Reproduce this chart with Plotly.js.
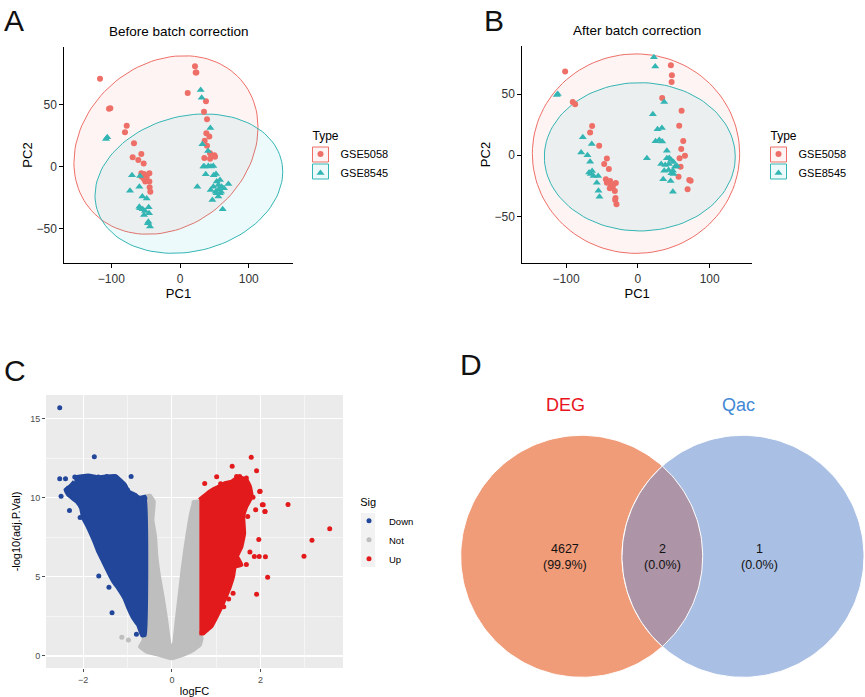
<!DOCTYPE html>
<html><head><meta charset="utf-8">
<script src="https://cdn.plot.ly/plotly-3.0.1.min.js"></script>
<style>body{margin:0;background:#fff}#chart{width:865px;height:697px}</style>
</head><body><div id="chart"></div>
<script>
// ---------- Panel A / B : PCA ----------
const typeNames = ['GSE5058', 'GSE8545'];
const aRedX = [-116.4,-103.3,-101.4,-77.6,-80.1,-67.0,-68.9,-56.3,-52.9,-60.7,-56.3,-52.4,-44.6,-48.5,-55.8,-50.5,-44.6,-44.2,-43.2,-52.4,21.8,22.8,23.8,11.2,37.8,34.9,39.3,38.3,42.7,35.9,39.3,43.7,50.0,50.9,35.4,43.7];
const aRedY = [71.2,47.0,47.3,33.3,28.0,19.1,7.8,10.5,2.7,5.6,-5.1,-5.6,-5.1,-7.8,-7.8,-11.8,-11.8,-16.4,-19.9,-9.7,81.2,76.1,76.1,59.7,53.0,44.6,38.4,27.2,24.5,21.2,17.2,11.0,9.4,8.3,7.3,6.7];
const aTealX = [-107.7,-105.8,-69.9,-58.2,-72.8,-59.2,-54.8,-48.5,-59.2,-54.3,-50.9,-45.6,-52.4,-45.1,-46.1,-43.7,-58.2,-46.6,30.1,31.5,44.2,32.5,40.8,35.4,41.2,48.5,37.4,49.0,52.4,25.2,44.6,48.5,53.4,55.8,58.2,60.6,64.0,70.4,58.2,51.9,47.1,62.1,55.8,59.7,34.0,45.1,56.3,53.4];
const aTealY = [22.6,23.9,-6.7,-7.3,-19.1,-15.9,-23.9,-25.5,-32.0,-34.1,-35.5,-32.5,-38.7,-37.4,-44.1,-48.1,-33.3,-45.4,62.1,55.9,31.5,18.3,12.9,0.3,0.8,0.8,-5.9,-6.7,-5.6,-15.9,-18.5,-15.9,-11.8,-14.5,-10.5,-15.9,-17.2,-13.7,-21.2,-19.9,-26.6,-34.1,-23.9,-19.9,0.3,0.3,-18.0,-21.2];
// ellipse: [centerX, centerY, halfExtentX, halfExtentY, covarianceXY]
const aEllRed = [-20.4, 17.7, 134, 72, 1900];
const aEllTeal = [12.9, -13.45, 136.6, 56.2, 1300];

const bRedX = [-101.3,-90.7,-87.4,-63.7,-66.5,-53.9,-43.2,-46.9,-40.4,-44.6,-38.6,-30.7,-37.7,-39.1,-32.1,-31.2,-29.8,-31.6,-43.2,-34.9,46.0,47.4,47.0,33.9,60.9,57.6,63.2,60.4,65.6,58.1,59.5,56.7,71.6,73.5,69.3];
const bRedY = [68.6,43.7,41.8,24.0,18.6,7.9,-2.7,-7.1,-11.2,-19.7,-21.0,-22.7,-24.3,-27.0,-29.2,-35.0,-40.2,-36.6,-22.4,-25.7,73.8,65.6,60.1,47.0,36.6,24.3,11.7,5.2,-0.3,-2.5,-9.3,-17.5,-20.2,-20.8,-27.9];
const bTealX = [-111.6,-113.0,-76.7,-79.0,-64.2,-70.2,-66.5,-67.9,-65.6,-61.8,-55.3,-57.2,-54.9,-53.5,-63.7,22.3,24.2,36.7,20.9,27.4,33.5,24.6,29.8,33.9,40.4,12.6,43.7,46.5,32.5,38.1,43.2,49.7,36.7,42.8,48.8,51.6,46.5,49.7,35.3,45.6,48.8,54.4,40.4];
const bTealY = [50.3,49.5,14.8,2.2,9.3,0,-5.2,-14.2,-15.3,-16.9,-16.9,-22.4,-29.0,-33.9,-12.8,80.3,72.7,43.7,33.6,21.3,22.4,11.5,12.6,11.2,3.8,-2.5,-2.2,-3.8,-7.1,-7.9,-7.1,-5.5,-12.6,-12.0,-12.6,-9.3,-14.8,-15.3,-19.7,-21.0,-29.8,-8.7,-2.5];
const bEllRed = [-2.6, 1.35, 144.4, 81.7, 0];
const bEllTeal = [2.7, -1.25, 133, 60.75, 0];
const pcaTicks = [-100, 0, 100];
const pcaYTicks = [-50, 0, 50];

// ---------- Panel C : volcano ----------
const sigNames = ['Down', 'Not', 'Up'];
// dense-cloud outlines
const downHullX = [-2.20,-1.89,-1.66,-1.47,-1.27,-1.06,-0.98,-0.83,-0.72,-0.61,-0.61,-0.67,-0.76,-0.87,-0.98,-1.07,-1.21,-1.32,-1.44,-1.55,-1.66,-1.75,-1.85,-1.92,-2.00,-2.05,-2.15,-2.34,-2.40,-2.30,-2.20];
const downHullY = [11.29,11.41,11.29,11.35,11.37,10.82,10.40,10.19,9.98,10.08,1.33,1.29,1.96,2.38,3.02,3.65,4.28,4.70,5.34,5.97,6.60,7.24,7.87,8.29,8.71,9.35,9.77,10.19,10.51,10.72,11.03];
const notHullX = [-0.61,-0.50,-0.41,-0.42,-0.44,-0.38,-0.35,-0.29,-0.21,-0.14,-0.08,-0.03,0.05,0.11,0.18,0.24,0.30,0.37,0.42,0.50,0.60,0.60,0.67,0.63,0.48,0.18,0.00,-0.27,-0.57,-0.72,-0.65,-0.61];
const notHullY = [10.08,10.13,9.77,9.24,8.61,7.55,6.29,5.02,3.76,2.49,1.22,0.38,0.80,2.28,3.97,5.44,6.71,7.97,8.82,9.70,9.77,1.65,1.12,0.70,0.38,0.00,-0.15,0.06,0.27,0.59,0.91,1.33];
const upHullX = [0.62,0.71,0.89,1.04,1.20,1.35,1.50,1.68,1.76,1.80,1.68,1.61,1.63,1.57,1.47,1.57,1.42,1.38,1.31,1.22,1.12,1.01,0.89,0.80,0.71,0.62];
const upHullY = [9.87,10.08,10.46,10.68,10.93,11.03,11.31,11.14,10.72,10.08,9.45,8.82,7.76,6.92,6.29,5.76,5.65,5.02,4.39,3.76,3.12,2.49,1.86,1.65,1.43,1.43];
// individually visible genes
const downPtX = [-2.53,-1.75,-2.53,-2.40,-2.50,-2.31,-0.92,-2.07,-1.65,-1.42,-1.35,-0.80,-2.19,-2.05,-1.90,-1.85,-1.66,-1.47,-1.27,-2.28,-2.34,-1.72,-1.06,-1.00,-0.72,-0.61];
const downPtY = [15.7,12.6,11.2,11.2,10.1,9.2,11.35,8.75,5.06,4.35,2.74,1.37,11.31,11.18,11.35,11.25,11.31,11.35,11.31,10.40,10.61,10.93,10.72,10.50,9.98,9.98];
const notPtX = [-1.13,-0.98,-0.50,0.50];
const notPtY = [1.18,1.01,10.1,9.7];
const upPtX = [1.79,1.36,1.01,0.74,1.91,1.99,2.04,2.10,2.62,1.96,1.76,1.97,2.11,2.16,1.91,1.86,1.68,1.28,1.38,1.17,3.56,3.16,2.98,1.10,1.46,1.53,1.68,1.31,1.98,1.66,1.83,2.06,2.10,1.71,1.89];
const upPtY = [12.57,12.0,11.33,10.91,11.71,10.42,9.56,9.14,9.58,7.36,6.58,6.29,6.27,4.98,3.90,6.29,5.78,3.61,3.97,3.12,8.04,7.32,6.31,10.89,11.35,11.35,11.25,10.89,10.40,10.51,10.04,9.56,9.13,8.82,9.24];
const volcXTicks = [-2, 0, 2];
const volcYTicks = [0, 5, 10, 15];

// ---------- Panel D : Venn ----------
const vennSets = ['DEG', 'Qac'];
const vennCounts = [4627, 2, 1]; // DEG only, both, Qac only

// ---------- helpers ----------
const RED = '#EE6F67', TEAL = '#33B5B3';
function ellipsePts(e) {
  const [cx, cy, sx, sy, sxy] = e;
  const p = sx, r = sxy / sx, s = Math.sqrt(sy * sy - r * r);
  const xs = [], ys = [];
  for (let i = 0; i <= 120; i++) {
    const t = 2 * Math.PI * i / 120;
    xs.push(cx + p * Math.cos(t));
    ys.push(cy + r * Math.cos(t) + s * Math.sin(t));
  }
  return [xs, ys];
}
function ellTrace(e, col, fill, xa, ya) {
  const [xs, ys] = ellipsePts(e);
  return {x: xs, y: ys, xaxis: xa, yaxis: ya, type: 'scatter', mode: 'lines', fill: 'toself',
    fillcolor: fill, line: {color: col, width: 1}, showlegend: false, hoverinfo: 'skip'};
}
function ptTrace(x, y, name, sym, col, size, xa, ya, leg) {
  return {x: x, y: y, name: name, xaxis: xa, yaxis: ya, type: 'scatter', mode: 'markers',
    marker: {symbol: sym, color: col, size: size, line: {width: 0}}, legend: leg, showlegend: true};
}

const traces = [];
// Panel A
traces.push(ellTrace(aEllRed, RED, 'rgba(248,118,109,0.08)', 'x', 'y'));
traces.push(ellTrace(aEllTeal, TEAL, 'rgba(0,191,196,0.07)', 'x', 'y'));
traces.push(ptTrace(aRedX, aRedY, typeNames[0], 'circle', RED, 6, 'x', 'y', 'legend'));
traces.push(ptTrace(aTealX, aTealY, typeNames[1], 'triangle-up', TEAL, 7, 'x', 'y', 'legend'));
// Panel B
traces.push(ellTrace(bEllRed, RED, 'rgba(248,118,109,0.08)', 'x2', 'y2'));
traces.push(ellTrace(bEllTeal, TEAL, 'rgba(0,191,196,0.07)', 'x2', 'y2'));
traces.push(ptTrace(bRedX, bRedY, typeNames[0], 'circle', RED, 6, 'x2', 'y2', 'legend2'));
traces.push(ptTrace(bTealX, bTealY, typeNames[1], 'triangle-up', TEAL, 7, 'x2', 'y2', 'legend2'));
// Panel C
const BLUE = '#21469A', GREY = '#BEBEBE', UPRED = '#E31A1C';
function hull(x, y, col) {
  return {x: x, y: y, xaxis: 'x3', yaxis: 'y3', type: 'scatter', mode: 'lines', fill: 'toself',
    fillcolor: col, line: {color: col, width: 4, shape: 'spline', smoothing: 0.3}, showlegend: false, hoverinfo: 'skip'};
}
traces.push(hull(notHullX, notHullY, GREY));
traces.push(hull(downHullX, downHullY, BLUE));
traces.push(hull(upHullX, upHullY, UPRED));
traces.push(ptTrace(downPtX, downPtY, sigNames[0], 'circle', BLUE, 5, 'x3', 'y3', 'legend3'));
traces.push(ptTrace(notPtX, notPtY, sigNames[1], 'circle', GREY, 5, 'x3', 'y3', 'legend3'));
traces.push(ptTrace(upPtX, upPtY, sigNames[2], 'circle', UPRED, 5, 'x3', 'y3', 'legend3'));

// Panel D (axis units = pixels)
const R = 121, C1 = [581.7, 556.3], C2 = [743, 556.3];
function circ(c) {
  const xs = [], ys = [];
  for (let i = 0; i <= 180; i++) { const t = 2 * Math.PI * i / 180; xs.push(c[0] + R * Math.cos(t)); ys.push(c[1] + R * Math.sin(t)); }
  return [xs, ys];
}
function lens() {
  const d = C2[0] - C1[0], th = Math.acos(d / 2 / R);
  const xs = [], ys = [];
  for (let i = 0; i <= 60; i++) { const t = -th + 2 * th * i / 60; xs.push(C1[0] + R * Math.cos(t)); ys.push(C1[1] + R * Math.sin(t)); }
  for (let i = 0; i <= 60; i++) { const t = Math.PI - th + 2 * th * i / 60; xs.push(C2[0] + R * Math.cos(t)); ys.push(C2[1] + R * Math.sin(t)); }
  return [xs, ys];
}
function vennTrace(pts, col) {
  return {x: pts[0], y: pts[1], xaxis: 'x4', yaxis: 'y4', type: 'scatter', mode: 'lines', fill: 'toself',
    fillcolor: col, line: {color: 'white', width: 1}, showlegend: false, hoverinfo: 'skip'};
}
traces.push(vennTrace(circ(C1), '#F19C79'));
traces.push(vennTrace(circ(C2), '#A9BFE4'));
traces.push(vennTrace(lens(), '#AD95A7'));

const total = vennCounts.reduce((a, b) => a + b, 0);
const pct = v => '(' + (100 * v / total).toFixed(1) + '%)';

const FONT = 'Liberation Sans, Arial, sans-serif';
function pcaX(dom, rng) {
  return {domain: dom, range: rng, tickvals: pcaTicks, showline: true, linecolor: '#000', linewidth: 1,
    ticks: 'outside', ticklen: 4, tickcolor: '#000', showgrid: false, zeroline: false,
    tickfont: {size: 12, color: '#333'}, title: {text: 'PC1', font: {size: 13}, standoff: 0}};
}
function pcaY(dom, rng) {
  return {domain: dom, range: rng, tickvals: pcaYTicks, showline: true, linecolor: '#000', linewidth: 1,
    ticks: 'outside', ticklen: 4, tickcolor: '#000', showgrid: false, zeroline: false,
    tickfont: {size: 12, color: '#333'}, title: {text: 'PC2', font: {size: 13}, standoff: 0}};
}
const px = v => v / 865, py = v => 1 - v / 697;
const pad = '&nbsp;&nbsp;&nbsp;';

const layout = {
  width: 865, height: 697, margin: {l: 0, r: 0, t: 0, b: 0},
  paper_bgcolor: 'white', plot_bgcolor: 'rgba(0,0,0,0)',
  font: {family: FONT, color: '#000'},
  xaxis: Object.assign(pcaX([px(64.3), px(292.7)], [-168.4, 164]), {anchor: 'y'}),
  yaxis: Object.assign(pcaY([py(263.3), py(46.7)], [-77.7, 97]), {anchor: 'x'}),
  xaxis2: Object.assign(pcaX([px(522.3), px(752)], [-161, 159]), {anchor: 'y2'}),
  yaxis2: Object.assign(pcaY([py(263.3), py(45.7)], [-88.5, 89.8]), {anchor: 'x2'}),
  xaxis3: {domain: [px(46), px(343)], range: [-2.84, 3.86], anchor: 'y3', tickvals: volcXTicks,
    showgrid: true, gridcolor: 'white', gridwidth: 1.1, zeroline: false, showline: false,
    minor: {dtick: 1, showgrid: true, gridcolor: 'white', gridwidth: 0.5},
    ticks: 'outside', ticklen: 3, tickcolor: '#4D4D4D', tickfont: {size: 9, color: '#4D4D4D'},
    title: {text: 'logFC', font: {size: 11}, standoff: 4}},
  yaxis3: {domain: [py(668), py(395)], range: [-0.76, 16.5], anchor: 'x3', tickvals: volcYTicks,
    showgrid: true, gridcolor: 'white', gridwidth: 1.1, zeroline: false, showline: false,
    minor: {dtick: 2.5, showgrid: true, gridcolor: 'white', gridwidth: 0.5},
    ticks: 'outside', ticklen: 3, tickcolor: '#4D4D4D', tickfont: {size: 9, color: '#4D4D4D'},
    title: {text: '-log10(adj.P.Val)', font: {size: 11}, standoff: 7}},
  xaxis4: {domain: [px(440), 1], range: [440, 865], anchor: 'y4', visible: false, fixedrange: true},
  yaxis4: {domain: [0, py(380)], range: [697, 380], anchor: 'x4', visible: false, fixedrange: true},
  legend: {x: px(300.5), y: py(124), xanchor: 'left', yanchor: 'top', bgcolor: 'rgba(0,0,0,0)',
    title: {text: pad + 'Type', font: {size: 12}}, font: {size: 11}, itemwidth: 30, tracegroupgap: 0},
  legend2: {x: px(758.5), y: py(124), xanchor: 'left', yanchor: 'top', bgcolor: 'rgba(0,0,0,0)',
    title: {text: pad + 'Type', font: {size: 12}}, font: {size: 11}, itemwidth: 30, tracegroupgap: 0},
  legend3: {x: px(349), y: py(492), xanchor: 'left', yanchor: 'top', bgcolor: 'rgba(0,0,0,0)',
    title: {text: pad + 'Sig', font: {size: 11}}, font: {size: 9.5}, itemwidth: 30, tracegroupgap: 0},
  shapes: [
    {type: 'rect', xref: 'x3 domain', yref: 'y3 domain', x0: 0, x1: 1, y0: 0, y1: 1,
      fillcolor: '#EBEBEB', line: {width: 0}, layer: 'below'},
    {type: 'rect', xref: 'paper', yref: 'paper', x0: px(361), x1: px(375), y0: py(567), y1: py(513),
      fillcolor: '#F2F2F2', line: {width: 0}, layer: 'below'},
    {type: 'rect', xref: 'paper', yref: 'paper', x0: px(312.5), x1: px(328.5), y0: py(162), y1: py(147),
      fillcolor: 'rgba(248,118,109,0.08)', line: {color: RED, width: 1}, layer: 'below'},
    {type: 'rect', xref: 'paper', yref: 'paper', x0: px(312.5), x1: px(328.5), y0: py(179), y1: py(164),
      fillcolor: 'rgba(0,191,196,0.07)', line: {color: TEAL, width: 1}, layer: 'below'},
    {type: 'rect', xref: 'paper', yref: 'paper', x0: px(770.5), x1: px(786.5), y0: py(162), y1: py(147),
      fillcolor: 'rgba(248,118,109,0.08)', line: {color: RED, width: 1}, layer: 'below'},
    {type: 'rect', xref: 'paper', yref: 'paper', x0: px(770.5), x1: px(786.5), y0: py(179), y1: py(164),
      fillcolor: 'rgba(0,191,196,0.07)', line: {color: TEAL, width: 1}, layer: 'below'}
  ],
  annotations: [
    {text: 'A', x: px(2), y: py(2), xref: 'paper', yref: 'paper', xanchor: 'left', yanchor: 'top', showarrow: false, font: {size: 30, color: '#111'}},
    {text: 'B', x: px(482), y: py(2), xref: 'paper', yref: 'paper', xanchor: 'left', yanchor: 'top', showarrow: false, font: {size: 30, color: '#111'}},
    {text: 'C', x: px(2), y: py(352), xref: 'paper', yref: 'paper', xanchor: 'left', yanchor: 'top', showarrow: false, font: {size: 30, color: '#111'}},
    {text: 'D', x: px(458), y: py(346), xref: 'paper', yref: 'paper', xanchor: 'left', yanchor: 'top', showarrow: false, font: {size: 30, color: '#111'}},
    {text: 'Before batch correction', x: px(179), y: py(31.5), xref: 'paper', yref: 'paper', xanchor: 'center', yanchor: 'middle', showarrow: false, font: {size: 13.5}},
    {text: 'After batch correction', x: px(637), y: py(31), xref: 'paper', yref: 'paper', xanchor: 'center', yanchor: 'middle', showarrow: false, font: {size: 13.5}},
    {text: vennSets[0], x: 565.7, y: 405, xref: 'x4', yref: 'y4', showarrow: false, font: {size: 18, color: '#E8141B'}},
    {text: vennSets[1], x: 738.3, y: 405, xref: 'x4', yref: 'y4', showarrow: false, font: {size: 18, color: '#4288D5'}},
    {text: vennCounts[0] + '<br>' + pct(vennCounts[0]), x: 565, y: 557, xref: 'x4', yref: 'y4', showarrow: false, font: {size: 12.5, color: '#111'}},
    {text: vennCounts[1] + '<br>' + pct(vennCounts[1]), x: 662, y: 557, xref: 'x4', yref: 'y4', showarrow: false, font: {size: 12.5, color: '#111'}},
    {text: vennCounts[2] + '<br>' + pct(vennCounts[2]), x: 759, y: 557, xref: 'x4', yref: 'y4', showarrow: false, font: {size: 12.5, color: '#111'}}
  ]
};

Plotly.newPlot('chart', traces, layout, {staticPlot: true});
</script></body></html>
